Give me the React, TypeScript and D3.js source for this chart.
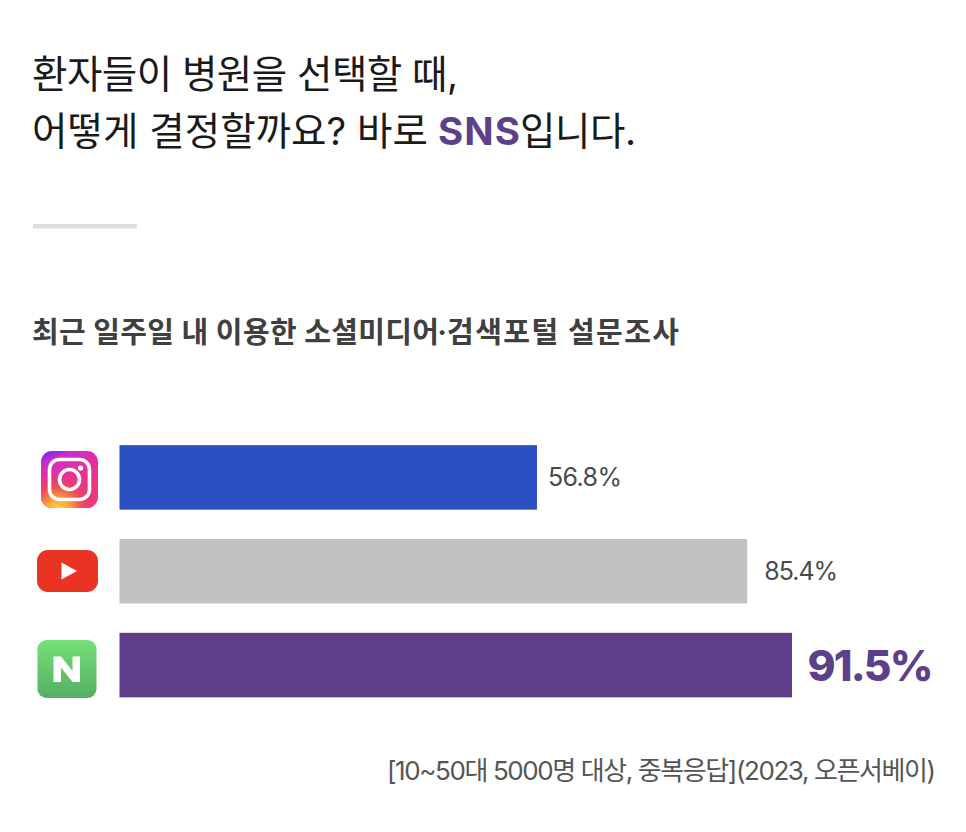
import React from "react";
import * as d3 from "d3";

const W = 966, H = 832;
const categories = ["Instagram", "YouTube", "Naver"];
const values = [56.8, 85.4, 91.5];
const valueLabels = ["56.8%", "85.4%", "91.5%"];
const barColors = ["#2a4fc1", "#c2c2c2", "#5e3f89"];
const titleLine1 = "환자들이 병원을 선택할 때,";
const subtitleA = "최근 일주일 내 이용한 소셜미디어";
const subtitleB = "·";
const subtitleC = "검색포털 설문조사";
const footnote = "[10~50대 5000명 대상, 중복응답](2023, 오픈서베이)";
const FONT = "Inter,'Noto Sans CJK KR','Noto Sans',sans-serif";

const x = d3.scaleLinear().domain([0, 91.5]).range([119.5, 792]);
const y = d3.scaleBand<string>().domain(categories).range([430.5, 712]).paddingInner(0.3125).paddingOuter(0.156);

function InstagramIcon() {
  return (
    <g>
      <rect x={41} y={451} width={57} height={57} rx={11} fill="url(#igBase)" />
      <rect x={41} y={451} width={57} height={57} rx={11} fill="url(#ig)" />
      <rect x={49.5} y={459.5} width={40} height={40} rx={10} fill="none" stroke="#fff" strokeWidth={3.6} />
      <circle cx={69.5} cy={479.5} r={10} fill="none" stroke="#fff" strokeWidth={3.6} />
      <circle cx={80.5} cy={468} r={2.6} fill="#fff" />
    </g>
  );
}
function YoutubeIcon() {
  return (
    <g>
      <rect x={37} y={550} width={61} height={42} rx={11} fill="#e93323" />
      <path d="M61.5 562.5 L61.5 579.5 L77 571 Z" fill="#fff" />
    </g>
  );
}
function NaverIcon() {
  return (
    <g>
      <rect x={37.5} y={640} width={59} height={58} rx={9} fill="url(#nv)" />
      <path d="M53.5 656.5 H61 L72.5 671 V656.5 H80 V682 H72.5 L61 667.5 V682 H53.5 Z" fill="#fff" />
    </g>
  );
}

export default function App() {
  return (
    <svg width={W} height={H} viewBox={`0 0 ${W} ${H}`} style={{ position: "absolute", left: 0, top: 0, background: "#fff" }} fontFamily={FONT}>
      <defs>
        <linearGradient id="igBase" x1="0.05" y1="0" x2="0.45" y2="1">
          <stop offset="0" stopColor="#6a24f2" />
          <stop offset="0.18" stopColor="#c92ccf" />
          <stop offset="0.5" stopColor="#e8309a" />
          <stop offset="1" stopColor="#ea3a7a" />
        </linearGradient>
        <radialGradient id="ig" cx="0.3" cy="1.05" r="0.72">
          <stop offset="0" stopColor="#fedb5a" stopOpacity={1} />
          <stop offset="0.3" stopColor="#fca437" stopOpacity={1} />
          <stop offset="0.62" stopColor="#f04a55" stopOpacity={0.85} />
          <stop offset="1" stopColor="#e6308c" stopOpacity={0} />
        </radialGradient>
        <linearGradient id="nv" x1="0" y1="0" x2="0" y2="1">
          <stop offset="0" stopColor="#75e078" />
          <stop offset="1" stopColor="#55ae63" />
        </linearGradient>
      </defs>
      <g fontSize={38.5} fill="#1a1a1a">
        <text x={32} y={88} textLength={426} lengthAdjust="spacing">{titleLine1}</text>
        <text x={32} y={145} textLength={396} lengthAdjust="spacing">어떻게 결정할까요? 바로</text>
        <text x={438} y={145} fontWeight={700} fill="#5e3f89" textLength={82} lengthAdjust="spacing">SNS</text>
        <text x={520} y={145} textLength={116} lengthAdjust="spacing">입니다.</text>
      </g>
      <rect x={33} y={224} width={104} height={4.5} fill="#dedede" />
      <g fontSize={29} fontWeight={700} fill="#404040">
        <text x={32} y={343} textLength={407} lengthAdjust="spacing">{subtitleA}</text>
        <text x={442} y={343} textAnchor="middle" fontFamily="Inter">{subtitleB}</text>
        <text x={447} y={343} textLength={232} lengthAdjust="spacing">{subtitleC}</text>
      </g>
      {categories.map((c, i) => {
        const big = i === 2;
        return (
          <g key={c}>
            <rect x={x(0)} y={y(c)!} width={x(values[i]) - x(0)} height={y.bandwidth()} fill={barColors[i]} />
            <text
              x={x(values[i]) + (big ? 15.5 : i === 1 ? 17 : 11)}
              y={y(c)! + y.bandwidth() / 2 + (big ? 16 : 9)}
              fontSize={big ? 42.5 : 25}
              fontWeight={big ? 800 : 400}
              fill={big ? "#5e3f89" : "#4a4a4a"}
              textLength={big ? 126 : 74}
              lengthAdjust="spacing"
            >
              {valueLabels[i]}
            </text>
          </g>
        );
      })}
      <InstagramIcon />
      <YoutubeIcon />
      <NaverIcon />
      <text x={387} y={780} fontSize={26} fill="#555" textLength={549} lengthAdjust="spacing">{footnote}</text>
    </svg>
  );
}
